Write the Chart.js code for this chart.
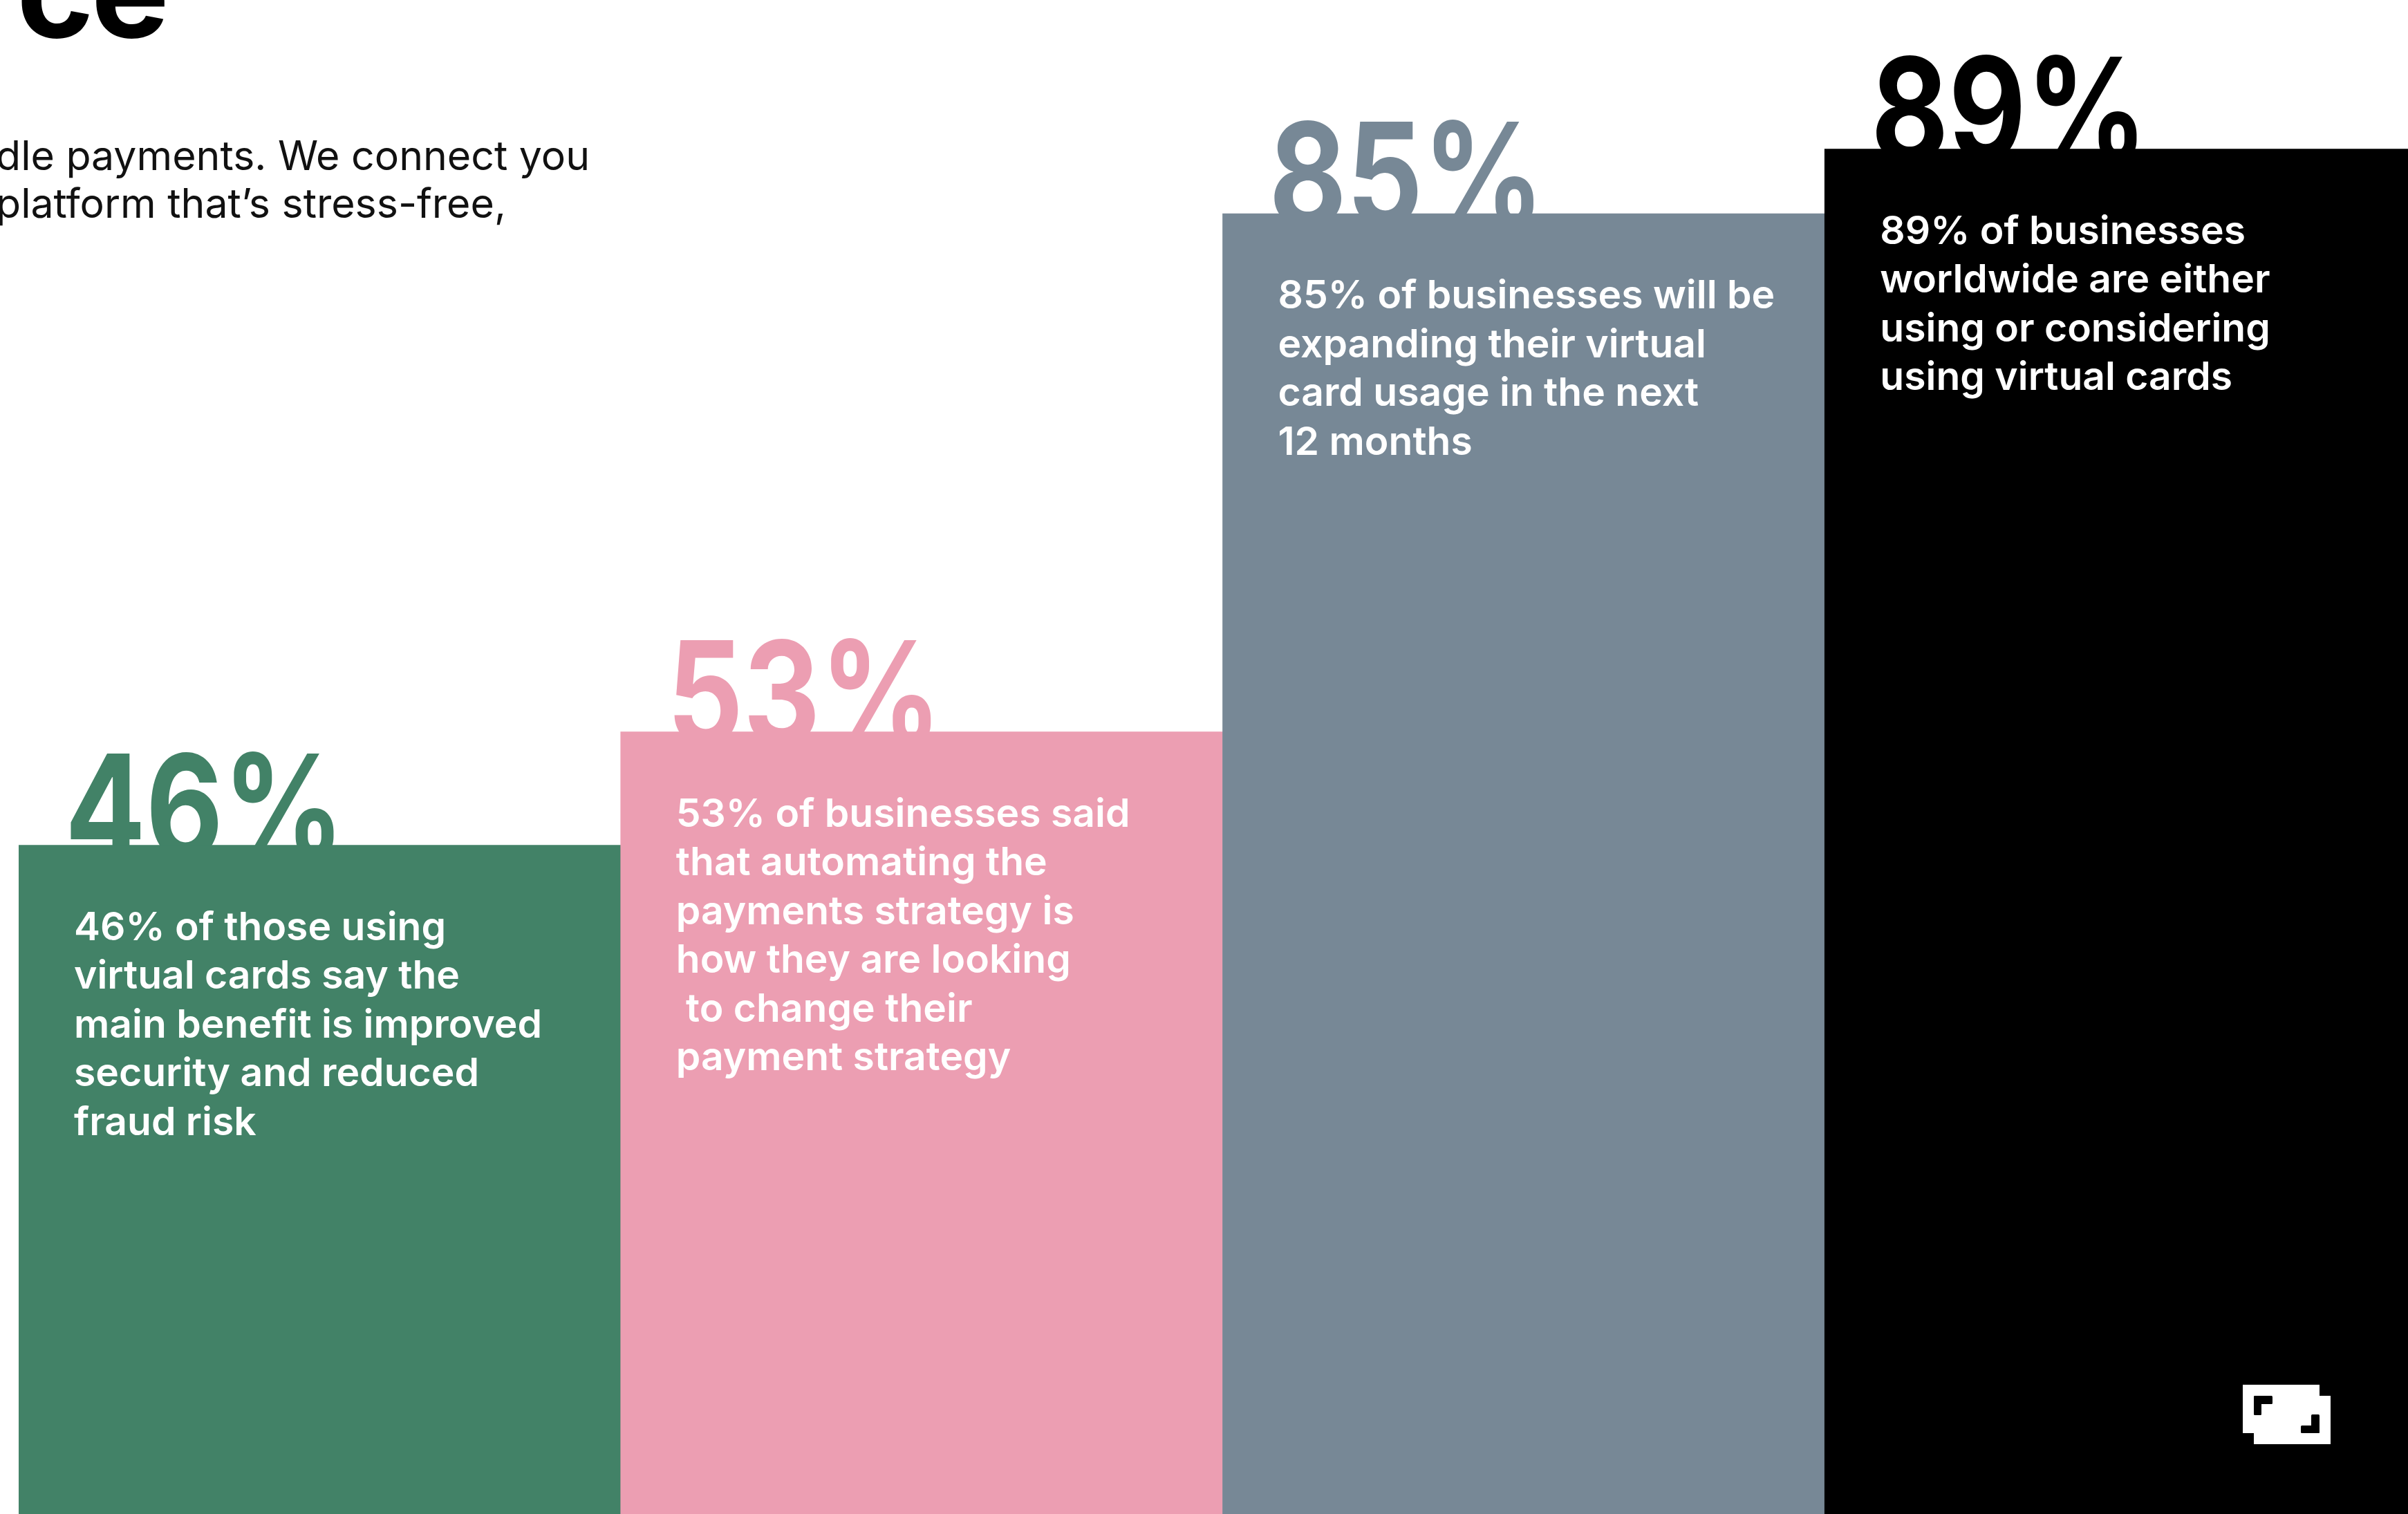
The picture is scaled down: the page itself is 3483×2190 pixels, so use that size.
<!DOCTYPE html>
<html lang="en">
  <head>
    <meta charset="UTF-8" />
    <title>Virtual cards</title>
    <style>
      html, body { margin: 0; padding: 0; background: #fff; }
      body { width: 3483px; height: 2190px; overflow: hidden; position: relative; font-family: Inter, "Noto Sans", sans-serif; }
      .titulo { position: absolute; left: 24px; top: -110px; font-size: 190px; font-weight: 700; line-height: 190px; color: #000; letter-spacing: -4px; }
      .intro { position: absolute; left: -6px; top: 190px; font-size: 59px; line-height: 69px; color: #111; white-space: pre; }
      #marco { position: absolute; left: 27px; top: 0; width: 3483px; height: 2190px; }
      #logo { position: absolute; left: 3240px; top: 2000px; }
    </style>
  </head>
  <body>
    <div class="titulo">ce</div>
    <div class="intro">dle payments. We connect you
platform that’s stress-free,</div>

    <div id="marco">
      <canvas id="lienzo"></canvas>
    </div>

    <svg id="logo" width="135" height="92" viewBox="0 0 135 92">
      <rect x="4" y="3" width="111" height="70" fill="#fff" />
      <rect x="20" y="19" width="111" height="70" fill="#fff" />
      <rect x="20" y="19" width="27" height="12" rx="1.5" fill="#000" />
      <rect x="20" y="19" width="11" height="28" rx="1.5" fill="#000" />
      <rect x="103" y="46" width="12" height="27" rx="1.5" fill="#000" />
      <rect x="88" y="62" width="27" height="11" rx="1.5" fill="#000" />
    </svg>

    <script src="https://cdn.jsdelivr.net/npm/chart.js"></script>

    <script>
      // datos de las barras
      const categorias = ["Security", "Automation", "Expansion", "Adoption"];
      const valores = [46, 53, 85, 89];
      const colores = ["#428267", "#ec9eb2", "#778896", "#000000"];
      const descripciones = [
        ["46% of those using", "virtual cards say the", "main benefit is improved", "security and reduced", "fraud risk"],
        ["53% of businesses said", "that automating the", "payments strategy is", "how they are looking", " to change their", "payment strategy"],
        ["85% of businesses will be", "expanding their virtual", "card usage in the next", "12 months"],
        ["89% of businesses", "worldwide are either", "using or considering", "using virtual cards"],
      ];

      const textos = {
        id: "textos",
        // the big number goes under the bar, so the bar cuts its lower edge
        beforeDatasetsDraw(chart) {
          const ctx = chart.ctx;
          const barras = chart.getDatasetMeta(0).data;
          barras.forEach((barra, i) => {
            const izq = barra.x - barra.width / 2;
            ctx.save();
            ctx.translate(izq + 67, barra.y + 18);
            ctx.scale(0.83, 1);
            ctx.font = "700 208px Inter";
            ctx.textAlign = "left";
            ctx.textBaseline = "alphabetic";
            ctx.fillStyle = colores[i];
            ctx.fillText(valores[i] + "%", 0, 0);
            ctx.restore();
          });
        },
        afterDatasetsDraw(chart) {
          const ctx = chart.ctx;
          const barras = chart.getDatasetMeta(0).data;
          ctx.save();
          ctx.font = "600 57px Inter";
          ctx.fillStyle = "#ffffff";
          ctx.textAlign = "left";
          ctx.textBaseline = "middle";
          barras.forEach((barra, i) => {
            const izq = barra.x - barra.width / 2;
            descripciones[i].forEach((linea, j) => {
              ctx.fillText(linea, izq + 80, barra.y + 120 + j * 70.5);
            });
          });
          ctx.restore();
        },
      };

      const lienzo = document.querySelector("#lienzo");
      const grafico = new Chart(lienzo, {
        type: "bar",
        data: {
          labels: categorias,
          datasets: [
            {
              data: valores,
              backgroundColor: colores,
              borderWidth: 0,
              barPercentage: 1,
              categoryPercentage: 1,
            },
          ],
        },
        options: {
          responsive: true,
          maintainAspectRatio: false,
          animation: false,
          layout: { padding: 0 },
          plugins: {
            legend: { display: false },
            tooltip: { enabled: false },
          },
          scales: {
            x: { display: false },
            y: { display: false, min: 4.7, max: 98.2 },
          },
        },
        plugins: [textos],
      });
    </script>
  </body>
</html>
